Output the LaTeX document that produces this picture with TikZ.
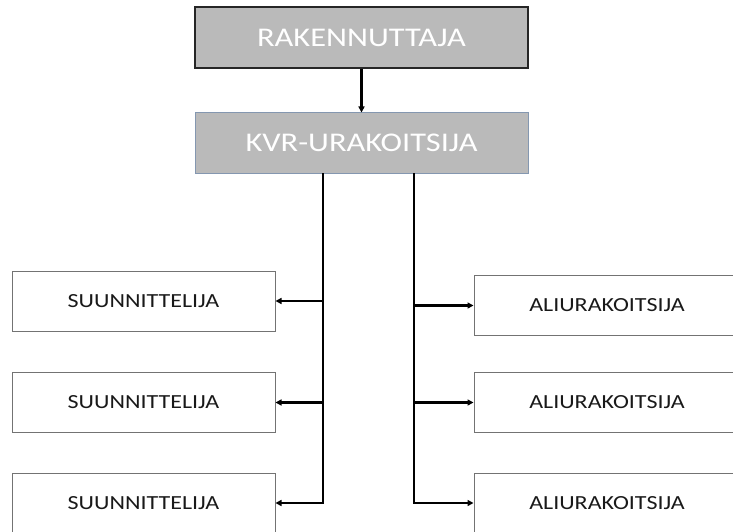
\documentclass[tikz,border=0pt]{standalone}
\usepackage{fontspec}
\usepackage{tikz}
\usetikzlibrary{arrows.meta}
\newfontfamily\boxfont[FakeStretch=1.2]{Carlito}
\definecolor{boxgray}{RGB}{186,186,186}
\definecolor{kvrline}{RGB}{132,151,176}

\begin{document}
\begin{tikzpicture}[x=1pt,y=-1pt]

\tikzstyle{orgbox}=[rectangle,draw=black!85,fill=boxgray,line width=1.5pt,text=white,minimum width=333pt,minimum height=61pt,inner sep=0pt,font=\boxfont\fontsize{27}{30}\selectfont]
\tikzstyle{orgbox2}=[orgbox,draw=kvrline,line width=1pt,minimum height=60pt]
\tikzstyle{plainbox}=[rectangle,draw=black!55,fill=white,line width=1pt,text=black!90,minimum width=263pt,minimum height=60pt,inner sep=0pt,font=\boxfont\fontsize{20}{24}\selectfont]
\tikzstyle{plainbox2}=[plainbox,minimum width=266pt]
\tikzstyle{link}=[line width=2.2pt,-{Triangle[length=6pt,width=6pt]}]

\useasboundingbox (0,0) rectangle (733,532);
\fill[white] (0,0) rectangle (733,532);

\node[orgbox] (rak) at (361.5,37.5) {RAKENNUTTAJA};
\node[orgbox2] (kvr) at (361.5,143) {KVR-URAKOITSIJA};

\node[plainbox] (suun1) at (143.5,301) {SUUNNITTELIJA};
\node[plainbox] (suun2) at (143.5,402.5) {SUUNNITTELIJA};
\node[plainbox] (suun3) at (143.5,503) {SUUNNITTELIJA};

\node[plainbox2] (ali1) at (607,305.5) {ALIURAKOITSIJA};
\node[plainbox2] (ali2) at (607,402.5) {ALIURAKOITSIJA};
\node[plainbox2] (ali3) at (607,503) {ALIURAKOITSIJA};

\coordinate (ltrunk) at (323,173);
\coordinate (rtrunk) at (414,173);

\draw[link] (rak) -- (kvr);
\draw[link] (ltrunk) |- (suun1.east);
\draw[link] (ltrunk) |- (suun2.east);
\draw[link] (ltrunk) |- (suun3.east);
\draw[link] (rtrunk) |- (ali1.west);
\draw[link] (rtrunk) |- (ali2.west);
\draw[link] (rtrunk) |- (ali3.west);
\end{tikzpicture}
\end{document}
